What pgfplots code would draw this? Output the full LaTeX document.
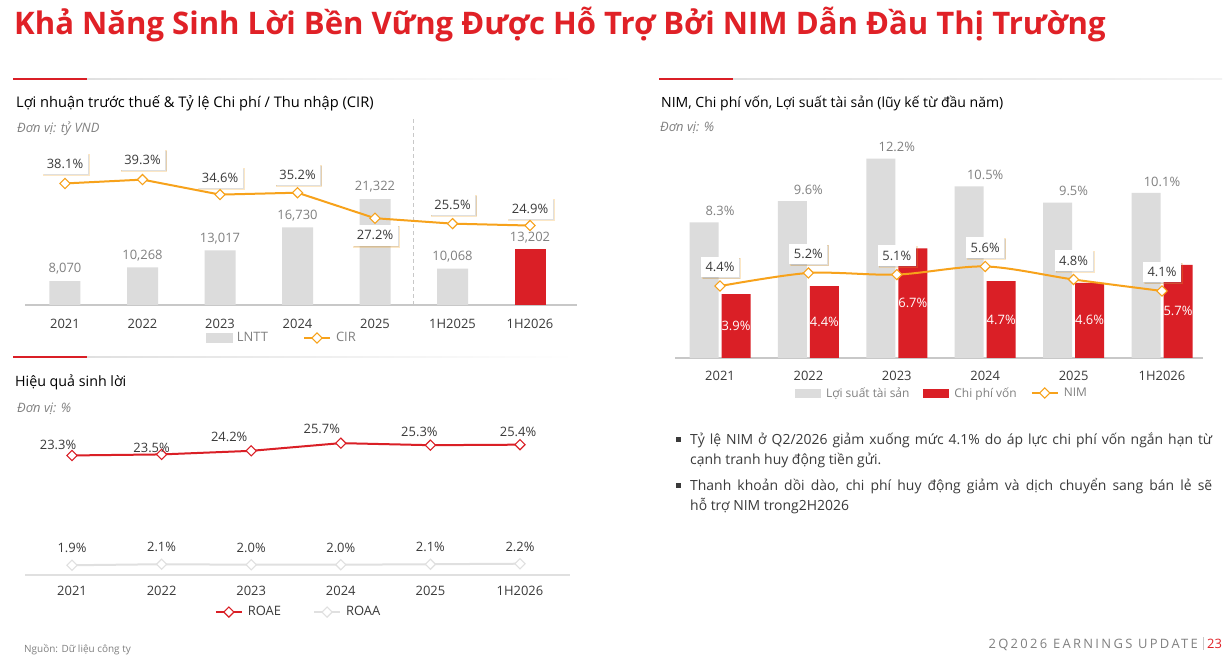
\documentclass[border=0pt]{standalone}
\usepackage{pgfplots}
\pgfplotsset{compat=1.18}
\usepackage{fontspec}
\setmainfont{Open Sans}
\usetikzlibrary{shadows}
\definecolor{vred}{HTML}{DA1F26}
\definecolor{tred}{HTML}{E02127}
\definecolor{bgray}{HTML}{DCDCDC}
\definecolor{vorange}{HTML}{F7A21B}
\definecolor{tdark}{HTML}{3A3A3A}
\definecolor{tgray}{HTML}{808080}
\definecolor{lgray}{HTML}{E0E0E0}
\definecolor{agray}{HTML}{C8C8C8}
\newcommand{\fsA}{\fontsize{13}{15}\selectfont}
\newcommand{\fsB}{\fontsize{13}{15}\selectfont}
\newcommand{\fsT}{\fontsize{14.7}{18}\selectfont}
\tikzset{boxlab/.style={fill=white, drop shadow={shadow xshift=1.5bp, shadow yshift=-1.5bp, opacity=0.25},
   font=\fsA, text=tdark, inner xsep=4.5bp, inner ysep=5.5bp}}
\pgfplotsset{
 base/.style={scale only axis, anchor=south west, clip=false, axis y line=none,
   axis x line=bottom, axis line style={-, draw=agray, line width=1.2bp},
   major tick length=0pt, ytick=\empty,
   /pgf/number format/assume math mode=true,
   xticklabel style={font=\fsA, text=tdark}},
 dmark/.style={mark=square*, mark options={rotate=45, fill=white, draw=#1, line width=1.1bp, solid}, mark size=3.6bp},
 linelegend/.style={legend image code/.code={\draw[mark repeat=2,mark phase=2,##1] plot coordinates {(0bp,0bp) (13bp,0bp) (26bp,0bp)};}},
 leg/.style 2 args={legend style={at={#1}, anchor=center, draw=none, fill=none,
    font=\fsA, text=tgray, legend columns=-1, inner sep=0pt,
    /tikz/every odd column/.style={column sep=3bp},
    /tikz/every even column/.style={column sep=#2}}},
}
\begin{document}
\begin{tikzpicture}
\path[use as bounding box, fill=white] (0,0) rectangle (1226bp,656bp);
% main title
\node[anchor=base west, inner sep=0, text=tred, font=\fontsize{31.2}{36}\selectfont\bfseries] at (14bp,621.5bp) {Khả Năng Sinh Lời Bền Vững Được Hỗ Trợ Bởi NIM Dẫn Đầu Thị Trường};
% decorative lines
\shade[left color=lgray, right color=white] (87bp,576.3bp) rectangle (575bp,577.7bp);
\fill[vred] (13bp,576bp) rectangle (87bp,578bp);
\shade[left color=lgray, right color=white] (87bp,298.3bp) rectangle (575bp,299.7bp);
\fill[vred] (13bp,298bp) rectangle (87bp,300bp);
\shade[left color=lgray, right color=lgray!40] (733bp,576.3bp) rectangle (1222bp,577.7bp);
\fill[vred] (659bp,576bp) rectangle (733bp,578bp);
% chart titles
\node[anchor=base west, inner sep=0, font=\fsT, text=black] at (16bp,548bp) {Lợi nhuận trước thuế \& Tỷ lệ Chi phí / Thu nhập (CIR)};
\node[anchor=base west, inner sep=0, font=\fsB\itshape, text=tgray] at (17bp,523bp) {Đơn vị: tỷ VND};
\node[anchor=base west, inner sep=0, font=\fontsize{14.3}{18}\selectfont, text=black] at (15bp,269bp) {Hiệu quả sinh lời};
\node[anchor=base west, inner sep=0, font=\fsB\itshape, text=tgray] at (17bp,243bp) {Đơn vị: \%};
\node[anchor=base west, inner sep=0, font=\fontsize{14.1}{17}\selectfont, text=black] at (661bp,548.7bp) {NIM, Chi phí vốn, Lợi suất tài sản (lũy kế từ đầu năm)};
\node[anchor=base west, inner sep=0, font=\fsB\itshape, text=tgray] at (660bp,524bp) {Đơn vị: \%};

% ===== Chart 1: LNTT bars =====
\begin{axis}[base, at={(25bp,351bp)}, width=552bp, height=188bp,
  xmin=-0.516, xmax=6.606, ymin=4200, ymax=34572,
  xtick={0,1,2,3,4,5,6}, xticklabels={2021,2022,2023,2024,2025,1H2025,1H2026},
  xticklabel style={yshift=-11bp}]
\draw[agray, dash pattern=on 4bp off 3bp, line width=0.8bp] (axis cs:4.5,4200) -- (axis cs:4.5,34572);
\addplot[ybar, bar width=31bp, bar shift=0pt, fill=bgray, draw=none,
  nodes near coords={\pgfmathprintnumber[fixed, precision=0, 1000 sep={,}]{\pgfplotspointmeta}},
  every node near coord/.append style={font=\fsA, text=tgray, yshift=3bp}]
  coordinates {(0,8070) (1,10268) (2,13017) (3,16730) (4,21322) (5,10068)};
\addplot[ybar, bar width=31bp, bar shift=0pt, fill=vred, draw=none,
  nodes near coords={\pgfmathprintnumber[fixed, precision=0, 1000 sep={,}]{\pgfplotspointmeta}},
  every node near coord/.append style={font=\fsA, text=tgray, yshift=3bp}]
  coordinates {(6,13202)};
\end{axis}
% ===== Chart 1: CIR line =====
\begin{axis}[base, hide axis, at={(25bp,351bp)}, width=552bp, height=188bp,
  xmin=-0.516, xmax=6.606, ymin=0, ymax=58.93,
  leg={(0.465,-0.1755)}{33bp}]
\addlegendimage{legend image code/.code={\fill[bgray] (0bp,-4.5bp) rectangle (26bp,4.5bp);}}
\addlegendentry{LNTT}
\addplot[vorange, line width=2bp, dmark=vorange, linelegend,
  nodes near coords={\pgfmathprintnumber[fixed, fixed zerofill, precision=1]{\pgfplotspointmeta}\%},
  visualization depends on={\thisrow{off}\as\off},
  every node near coord/.append style={boxlab, anchor=center, yshift=\off*1bp}]
  table {
x y off
0 38.1 20
1 39.3 20
2 34.6 17
3 35.2 18
4 27.2 -17
5 25.5 19
6 24.9 17
};
\addlegendentry{CIR}
\end{axis}

% ===== Chart 2: ROAE / ROAA =====
\begin{axis}[base, at={(25bp,81bp)}, width=545bp, height=155bp,
  xmin=-0.5246, xmax=5.558, ymin=0, ymax=30.21,
  axis line style={-, draw=lgray, line width=1.2bp},
  xtick={0,1,2,3,4,5}, xticklabels={2021,2022,2023,2024,2025,1H2026},
  xticklabel style={yshift=-8bp},
  leg={(0.502,-0.239)}{30bp}, legend style={text=tdark}]
\addplot[vred, line width=2bp, dmark=vred, linelegend,
  nodes near coords={\pgfmathprintnumber[fixed, fixed zerofill, precision=1]{\pgfplotspointmeta}\%},
  visualization depends on={\thisrow{dx}\as\dx},
  visualization depends on={\thisrow{dy}\as\dy},
  every node near coord/.append style={anchor=center, font=\fsA, text=tdark, xshift=\dx*1bp, yshift=\dy*1bp}]
  table {
x y dx dy
0 23.3 -14 11
1 23.5 -10 7
2 24.2 -22 14
3 25.7 -19 14
4 25.3 -11 13
5 25.4 -2 13
};
\addlegendentry{ROAE}
\addplot[lgray, line width=2bp, dmark=lgray, linelegend,
  nodes near coords={\pgfmathprintnumber[fixed, fixed zerofill, precision=1]{\pgfplotspointmeta}\%},
  every node near coord/.append style={anchor=center, font=\fsA, text=tdark, yshift=17bp}]
  coordinates {(0,1.9) (1,2.1) (2,2.0) (3,2.0) (4,2.1) (5,2.2)};
\addlegendentry{ROAA}
\end{axis}

% ===== Chart 3: NIM =====
\begin{axis}[base, at={(675bp,298bp)}, width=528bp, height=228.9bp,
  xmin=-0.509, xmax=5.464, ymin=0, ymax=14,
  xtick={0,1,2,3,4,5}, xticklabels={2021,2022,2023,2024,2025,1H2026},
  xticklabel style={yshift=-10bp},
  leg={(0.5057,-0.153)}{12bp}, legend style={font=\fontsize{12}{14}\selectfont}]
\addplot[ybar, bar width=29bp, bar shift=-16bp, fill=bgray, draw=none,
  legend image code/.code={\fill[bgray] (0bp,-4.5bp) rectangle (26bp,4.5bp);},
  nodes near coords={\pgfmathprintnumber[fixed, fixed zerofill, precision=1]{\pgfplotspointmeta}\%},
  every node near coord/.append style={font=\fsA, text=tgray, yshift=3bp}]
  coordinates {(0,8.3) (1,9.6) (2,12.2) (3,10.5) (4,9.5) (5,10.1)};
\addlegendentry{Lợi suất tài sản}
\addplot[ybar, bar width=29bp, bar shift=16bp, fill=vred, draw=none,
  legend image code/.code={\fill[vred] (0bp,-4.5bp) rectangle (26bp,4.5bp);},
  nodes near coords={\pgfmathprintnumber[fixed, fixed zerofill, precision=1]{\pgfplotspointmeta}\%},
  visualization depends on={\thisrow{y}\as\yv},
  every node near coord/.append style={anchor=center, font=\fsA, text=white, xshift=16bp, yshift=-\yv*8.175bp}]
  table {
x y
0 3.9
1 4.4
2 6.7
3 4.7
4 4.6
5 5.7
};
\addlegendentry{Chi phí vốn}
\addplot[vorange, line width=2bp, smooth, tension=0.5, dmark=vorange, linelegend,
  nodes near coords={\pgfmathprintnumber[fixed, fixed zerofill, precision=1]{\pgfplotspointmeta}\%},
  every node near coord/.append style={boxlab, anchor=center, yshift=19bp}]
  coordinates {(0,4.4) (1,5.2) (2,5.1) (3,5.6) (4,4.8) (5,4.1)};
\addlegendentry{NIM}
\end{axis}

% ===== Bullets =====
\fill[tdark] (675.5bp,213.5bp) rectangle (680.5bp,218.5bp);
\fill[tdark] (675.5bp,167.5bp) rectangle (680.5bp,172.5bp);
\node[anchor=base west, inner sep=0, text width=522bp, align=justify, font=\fontsize{14}{20}\selectfont, text=tdark] at (690bp,211bp)
 {Tỷ lệ NIM ở Q2/2026 giảm xuống mức 4.1\% do áp lực chi phí vốn ngắn hạn từ\linebreak cạnh tranh huy động tiền gửi.};
\node[anchor=base west, inner sep=0, text width=522bp, align=justify, font=\fontsize{14}{20}\selectfont, text=tdark] at (690bp,165bp)
 {Thanh khoản dồi dào, chi phí huy động giảm và dịch chuyển sang bán lẻ sẽ\linebreak hỗ trợ NIM trong2H2026};

% ===== Footer =====
\node[anchor=base west, inner sep=0, font=\fontsize{10}{12}\selectfont, text=tgray] at (24bp,4bp) {Nguồn: Dữ liệu công ty};
\node[anchor=base east, inner sep=0, font=\fontsize{13}{15}\selectfont\addfontfeatures{LetterSpace=18}, text=tgray] at (1198bp,8bp) {2Q2026 EARNINGS UPDATE};
\fill[agray] (1203bp,6bp) rectangle (1204bp,19bp);
\node[anchor=base west, inner sep=0, font=\fontsize{13}{15}\selectfont, text=tred] at (1207bp,8bp) {23};
\end{tikzpicture}
\end{document}
